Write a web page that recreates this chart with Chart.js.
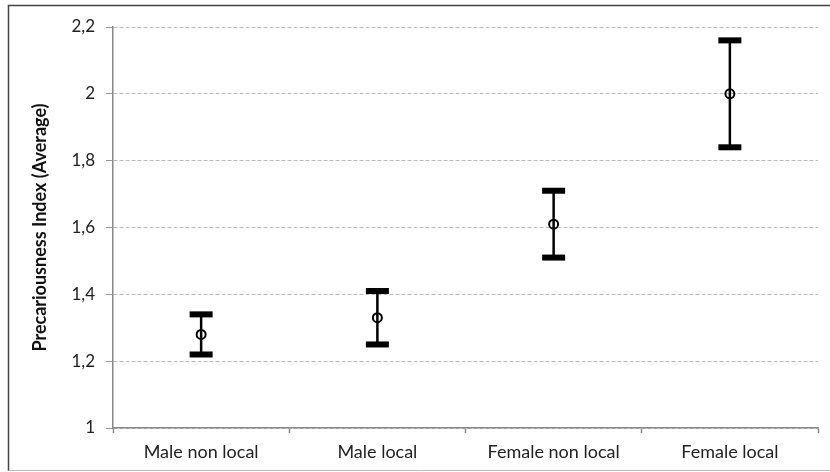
<!DOCTYPE html>
<html>
<head>
<meta charset="utf-8">
<script src="https://cdn.jsdelivr.net/npm/chart.js@4"></script>
<style>
  html, body { margin: 0; padding: 0; background: #fff; }
  #c { display: block; }
</style>
</head>
<body>
<canvas id="c" width="830" height="472"></canvas>
<script>
// Group labels along the horizontal axis
const categories = ['Male non local', 'Male local', 'Female non local', 'Female local'];
// Average index per group and its interval bounds
const means = [1.28, 1.33, 1.61, 2.0];
const lowerBounds = [1.22, 1.25, 1.51, 1.84];
const upperBounds = [1.34, 1.41, 1.71, 2.16];
// Value axis range and step
const yMin = 1;
const yMax = 2.2;
const yStep = 0.2;

const FONT = 'Lato, "Liberation Sans", Arial, sans-serif';

// Outer frame around the figure
const framePlugin = {
  id: 'frame',
  beforeDraw(chart) {
    const ctx = chart.ctx;
    ctx.save();
    ctx.fillStyle = '#fff';
    ctx.fillRect(0, 0, chart.width, chart.height);
    ctx.lineWidth = 1.5;
    ctx.strokeStyle = '#444';
    ctx.beginPath();
    ctx.moveTo(chart.width + 2, 5.5);
    ctx.lineTo(8.5, 5.5);
    ctx.lineTo(8.5, 471);
    ctx.stroke();
    ctx.strokeStyle = '#bbb';
    ctx.lineWidth = 1;
    ctx.beginPath();
    ctx.moveTo(8.5, 470.5);
    ctx.lineTo(chart.width + 2, 470.5);
    ctx.stroke();
    ctx.restore();
  }
};

// Vertical interval bars with flat caps, drawn from the bound arrays
const errorBarPlugin = {
  id: 'errorBars',
  afterDatasetsDraw(chart) {
    const ctx = chart.ctx;
    const xs = chart.scales.x;
    const ys = chart.scales.y;
    ctx.save();
    ctx.fillStyle = '#000';
    ctx.strokeStyle = '#000';
    for (let i = 0; i < categories.length; i++) {
      const x = xs.getPixelForValue(i);
      const yTop = ys.getPixelForValue(upperBounds[i]);
      const yBot = ys.getPixelForValue(lowerBounds[i]);
      ctx.lineWidth = 2.5;
      ctx.beginPath();
      ctx.moveTo(x, yTop);
      ctx.lineTo(x, yBot);
      ctx.stroke();
      const capW = 23, capH = 6;
      ctx.fillRect(x - capW / 2, yTop - capH / 2, capW, capH);
      ctx.fillRect(x - capW / 2, yBot - capH / 2, capW, capH);
    }
    ctx.restore();
  }
};

new Chart(document.getElementById('c'), {
  type: 'line',
  data: {
    labels: categories,
    datasets: [{
      data: means,
      showLine: false,
      pointStyle: 'circle',
      pointRadius: 4.5,
      pointHoverRadius: 4.5,
      pointBorderWidth: 2,
      pointBorderColor: '#000',
      pointBackgroundColor: 'rgba(255,255,255,0)'
    }]
  },
  options: {
    responsive: false,
    animation: false,
    events: [],
    layout: { padding: { top: 27, right: 12, left: 0, bottom: 0 } },
    plugins: {
      legend: { display: false },
      tooltip: { enabled: false }
    },
    scales: {
      x: {
        type: 'category',
        offset: true,
        grid: {
          offset: true,
          drawOnChartArea: false,
          drawTicks: true,
          tickLength: 5,
          tickColor: '#888',
          tickWidth: 1.5
        },
        border: { color: '#888', width: 1.5 },
        ticks: {
          color: '#222',
          padding: 8,
          maxRotation: 0,
          font: { family: FONT, size: 18 }
        },
        afterFit(scale) { scale.height = 44; }
      },
      y: {
        min: yMin,
        max: yMax,
        grid: {
          color: '#bbb',
          lineWidth: 1,
          tickLength: 7,
          tickColor: '#999',
          tickBorderDash: [],
          tickWidth: 1
        },
        border: { color: '#888', width: 1.5, dash: [4, 2] },
        ticks: {
          stepSize: yStep,
          color: '#222',
          padding: 11,
          font: { family: FONT, size: 17 },
          callback: (v) => String(Math.round(v * 10) / 10).replace('.', ',')
        },
        title: {
          display: true,
          text: 'Precariousness Index (Average)',
          color: '#111',
          padding: { top: 29, bottom: 0 },
          font: { family: FONT, size: 18, weight: 'bold' }
        },
        afterFit(scale) { scale.width = 113; }
      }
    }
  },
  plugins: [framePlugin, errorBarPlugin]
});
</script>
</body>
</html>
